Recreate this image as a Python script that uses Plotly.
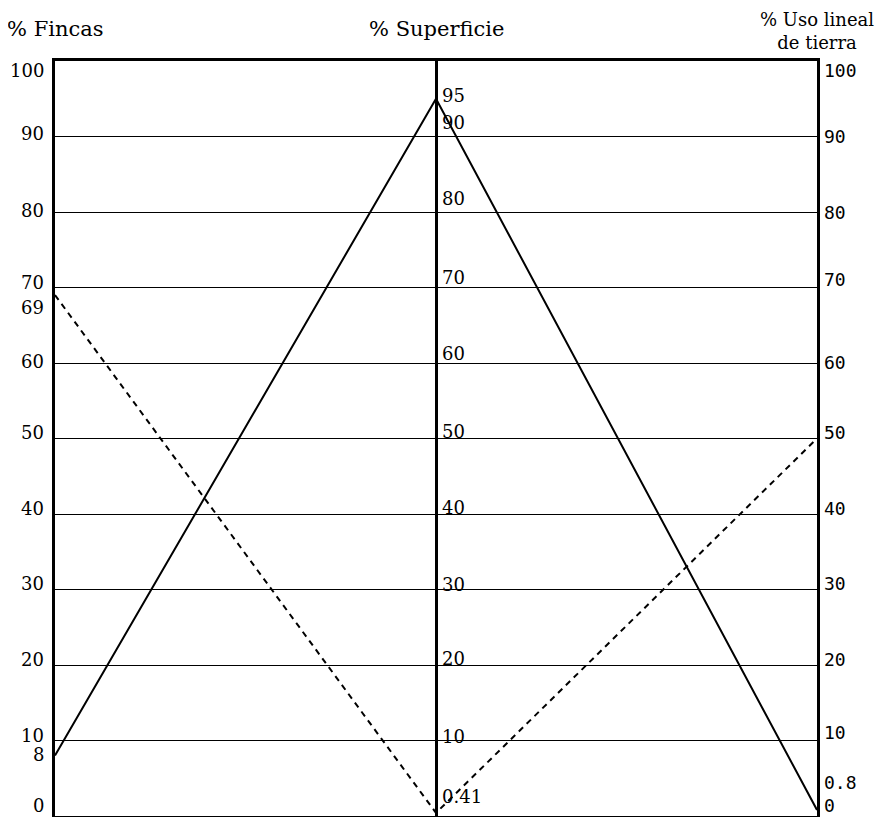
import plotly.graph_objects as go

# ---- data ----
axes_names = ["% Fincas", "% Superficie", "% Uso lineal<br>de tierra"]
axis_pos = [0, 1, 2]
solid_values = [8, 95, 0.8]
dashed_values = [69, 0.41, 50]

grid_values = [10, 20, 30, 40, 50, 60, 70, 80, 90]

left_labels = [0, 8, 10, 20, 30, 40, 50, 60, 69, 70, 80, 90, 100]
left_text = ["0", "8", "10", "20", "30", "40", "50", "60", "69", "70", "80", "90", "100"]
mid_labels = [0.41, 10, 20, 30, 40, 50, 60, 70, 80, 90, 95]
mid_text = ["0.41", "10", "20", "30", "40", "50", "60", "70", "80", "90", "95"]
right_labels = [0, 0.8, 10, 20, 30, 40, 50, 60, 70, 80, 90, 100]
right_text = ["0", "0.8", "10", "20", "30", "40", "50", "60", "70", "80", "90", "100"]

# ---- label nudges (pixels, styling only) ----
left_nudge = {"0": 11, "8": 1, "10": 5, "69": -12, "70": 5, "60": 2, "100": -9, "90": 3, "80": 2}
mid_nudge = {"0.41": 16, "95": 3, "90": 14, "80": 14, "70": 10, "60": 10, "10": 4, "30": 5}
right_nudge = {"0": 11, "0.8": 27, "100": -9, "90": 0, "80": 0, "60": 1, "70": 8, "10": 8}

fig = go.Figure()

fig.add_trace(go.Scatter(x=axis_pos, y=solid_values, mode="lines",
                         line=dict(color="black", width=2), showlegend=False))
fig.add_trace(go.Scatter(x=axis_pos, y=dashed_values, mode="lines",
                         line=dict(color="black", width=2, dash="6px,5px"), showlegend=False))

annotations = []
serif = "DejaVu Serif"
for v, t in zip(left_labels, left_text):
    annotations.append(dict(x=axis_pos[0], y=v, xref="x", yref="y", text=t, showarrow=False,
                            xanchor="right", yanchor="middle", xshift=-9,
                            yshift=left_nudge.get(t, 6),
                            font=dict(family=serif, size=18, color="black")))
for v, t in zip(mid_labels, mid_text):
    annotations.append(dict(x=axis_pos[1], y=v, xref="x", yref="y", text=t, showarrow=False,
                            xanchor="left", yanchor="middle", xshift=4,
                            yshift=mid_nudge.get(t, 7),
                            font=dict(family=serif, size=18, color="black")))
for v, t in zip(right_labels, right_text):
    annotations.append(dict(x=axis_pos[2], y=v, xref="x", yref="y", text=t, showarrow=False,
                            xanchor="left", yanchor="middle", xshift=5,
                            yshift=right_nudge.get(t, 6),
                            font=dict(family="DejaVu Sans Mono", size=18, color="black")))

title_shift = [32, 32, 30]
title_size = [21, 21, 18]
for xp, name, ys, fs in zip(axis_pos, axes_names, title_shift, title_size):
    annotations.append(dict(x=xp, y=1, xref="x", yref="paper", text=name, showarrow=False,
                            xanchor="center", yanchor="middle", yshift=ys, align="center",
                            font=dict(family=serif, size=fs, color="black")))

fig.update_layout(
    width=879, height=809,
    margin=dict(l=47, r=70, t=53, b=1),
    paper_bgcolor="white", plot_bgcolor="white",
    annotations=annotations,
    xaxis=dict(range=[0, 2], tickvals=[1], showticklabels=False, ticks="",
               showgrid=True, gridcolor="black", gridwidth=3, zeroline=False,
               showline=True, linecolor="black", linewidth=2.5, mirror=True),
    yaxis=dict(range=[0, 100], tickvals=grid_values, showticklabels=False, ticks="",
               showgrid=True, gridcolor="black", gridwidth=1.3, zeroline=False,
               showline=True, linecolor="black", linewidth=3, mirror=True),
)

fig.write_html("out.html")
